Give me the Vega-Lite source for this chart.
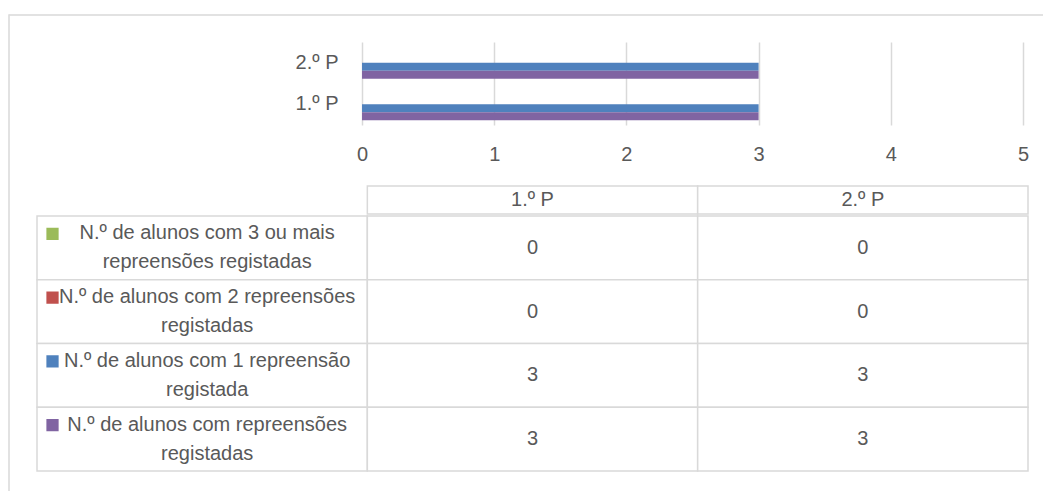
{
  "$schema": "https://vega.github.io/schema/vega-lite/v6.json",
  "background": "white",
  "padding": {"left": 8, "top": 14, "right": 0, "bottom": 0},
  "config": {
    "view": {"stroke": null},
    "font": "Liberation Sans",
    "axis": {"labelFont": "Liberation Sans", "labelColor": "#595959", "labelFontSize": 20},
    "text": {"font": "Liberation Sans", "fontSize": 20, "color": "#595959"}
  },
  "datasets": {
    "dados": [
      {"Periodo": "1.º P", "Serie": "N.º de alunos com 3 ou mais repreensões registadas", "Valor": 0},
      {"Periodo": "1.º P", "Serie": "N.º de alunos com 2 repreensões registadas", "Valor": 0},
      {"Periodo": "1.º P", "Serie": "N.º de alunos com 1  repreensão registada", "Valor": 3},
      {"Periodo": "1.º P", "Serie": "N.º de alunos com repreensões registadas", "Valor": 3},
      {"Periodo": "2.º P", "Serie": "N.º de alunos com 3 ou mais repreensões registadas", "Valor": 0},
      {"Periodo": "2.º P", "Serie": "N.º de alunos com 2 repreensões registadas", "Valor": 0},
      {"Periodo": "2.º P", "Serie": "N.º de alunos com 1  repreensão registada", "Valor": 3},
      {"Periodo": "2.º P", "Serie": "N.º de alunos com repreensões registadas", "Valor": 3}
    ],
    "series": [
      {"Serie": "N.º de alunos com 3 ou mais repreensões registadas", "Linhas": ["N.º de alunos com 3 ou mais", "repreensões registadas"]},
      {"Serie": "N.º de alunos com 2 repreensões registadas", "Linhas": ["N.º de alunos com 2 repreensões", "registadas"]},
      {"Serie": "N.º de alunos com 1  repreensão registada", "Linhas": ["N.º de alunos com 1  repreensão", "registada"]},
      {"Serie": "N.º de alunos com repreensões registadas", "Linhas": ["N.º de alunos com repreensões", "registadas"]}
    ],
    "cabecalho": [{"Periodo": "1.º P"}, {"Periodo": "2.º P"}],
    "vazio": []
  },
  "spacing": -3,
  "hconcat": [
    {
      "width": 0.01,
      "height": 480,
      "view": {"stroke": "#d9d9d9", "strokeWidth": 1.5},
      "data": {"name": "vazio"},
      "mark": {"type": "point"},
      "encoding": {}
    },
    {
      "spacing": 26,
      "vconcat": [
        {
          "width": 1034,
          "height": 0.01,
          "view": {"stroke": "#d9d9d9", "strokeWidth": 1.5},
          "data": {"name": "vazio"},
          "mark": {"type": "point"},
          "encoding": {}
        },
        {
          "spacing": 21,
          "vconcat": [
            {
              "width": 1034,
              "height": 83,
              "data": {"name": "dados"},
              "mark": {"type": "bar"},
              "encoding": {
                "x": {
                  "field": "Valor", "type": "quantitative",
                  "scale": {"domain": [-2.663, 5.159], "nice": false},
                  "axis": {"values": [0, 1, 2, 3, 4, 5], "grid": true, "gridColor": "#d9d9d9", "gridWidth": 1.5, "domain": false, "ticks": false, "labelPadding": 19, "title": null, "format": "d"}
                },
                "y": {
                  "field": "Periodo", "type": "nominal", "sort": ["2.º P", "1.º P"],
                  "scale": {"paddingInner": 0.229, "paddingOuter": 0.1145},
                  "axis": {"title": null, "offset": -352, "domain": false, "ticks": false, "grid": false, "labelPadding": 24}
                },
                "yOffset": {
                  "field": "Serie", "type": "nominal",
                  "sort": ["N.º de alunos com 3 ou mais repreensões registadas", "N.º de alunos com 2 repreensões registadas", "N.º de alunos com 1  repreensão registada", "N.º de alunos com repreensões registadas"],
                  "scale": {"paddingInner": 0, "paddingOuter": 0}
                },
                "color": {
                  "field": "Serie", "type": "nominal",
                  "scale": {
                    "domain": ["N.º de alunos com 3 ou mais repreensões registadas", "N.º de alunos com 2 repreensões registadas", "N.º de alunos com 1  repreensão registada", "N.º de alunos com repreensões registadas"],
                    "range": ["#9BBB59", "#C0504D", "#4F81BD", "#8064A2"]
                  },
                  "legend": null
                }
              }
            },
            {
              "spacing": 0,
              "vconcat": [
                {
                  "width": 1034,
                  "height": 28,
                  "data": {"name": "cabecalho"},
                  "encoding": {
                    "x": {"field": "Periodo", "type": "nominal", "scale": {"domain": ["Série", "1.º P", "2.º P"], "paddingInner": 0, "paddingOuter": 0.0651, "align": 0.628}, "axis": null}
                  },
                  "layer": [
                    {"mark": {"type": "rect", "fill": "white", "stroke": "#d9d9d9", "strokeWidth": 1.5}},
                    {"mark": {"type": "text"}, "encoding": {"text": {"field": "Periodo"}}}
                  ]
                },
                {
                  "width": 1034,
                  "height": 255,
                  "layer": [
                    {
                      "data": {"name": "series"},
                      "mark": {"type": "rect", "fill": "white", "stroke": "#d9d9d9", "strokeWidth": 1.5},
                      "encoding": {
                        "x": {"datum": "Série", "type": "nominal", "scale": {"domain": ["Série", "1.º P", "2.º P"], "paddingInner": 0, "paddingOuter": 0.0651, "align": 0.628}, "axis": null},
                        "y": {"field": "Serie", "type": "nominal", "sort": null, "scale": {"domain": ["N.º de alunos com 3 ou mais repreensões registadas", "N.º de alunos com 2 repreensões registadas", "N.º de alunos com 1  repreensão registada", "N.º de alunos com repreensões registadas"], "paddingInner": 0, "paddingOuter": 0}, "axis": null}
                      }
                    },
                    {
                      "data": {"name": "dados"},
                      "mark": {"type": "rect", "fill": "white", "stroke": "#d9d9d9", "strokeWidth": 1.5},
                      "encoding": {
                        "x": {"field": "Periodo", "type": "nominal"},
                        "y": {"field": "Serie", "type": "nominal"}
                      }
                    },
                    {
                      "data": {"name": "dados"},
                      "mark": {"type": "text"},
                      "encoding": {
                        "x": {"field": "Periodo", "type": "nominal"},
                        "y": {"field": "Serie", "type": "nominal"},
                        "text": {"field": "Valor", "type": "quantitative"}
                      }
                    },
                    {
                      "data": {"name": "series"},
                      "mark": {"type": "text", "lineHeight": 29, "dy": -14.5, "dx": 5},
                      "encoding": {
                        "x": {"datum": "Série", "type": "nominal"},
                        "y": {"field": "Serie", "type": "nominal"},
                        "text": {"field": "Linhas"}
                      }
                    },
                    {
                      "data": {"name": "series"},
                      "mark": {"type": "point", "shape": "square", "filled": true, "opacity": 1, "size": 150, "xOffset": 15.5, "yOffset": -14},
                      "encoding": {
                        "x": {"datum": "Série", "type": "nominal", "bandPosition": 0},
                        "y": {"field": "Serie", "type": "nominal"},
                        "color": {
                          "field": "Serie", "type": "nominal",
                          "scale": {
                            "domain": ["N.º de alunos com 3 ou mais repreensões registadas", "N.º de alunos com 2 repreensões registadas", "N.º de alunos com 1  repreensão registada", "N.º de alunos com repreensões registadas"],
                            "range": ["#9BBB59", "#C0504D", "#4F81BD", "#8064A2"]
                          },
                          "legend": null
                        }
                      }
                    }
                  ]
                }
              ]
            }
          ]
        }
      ]
    }
  ]
}
